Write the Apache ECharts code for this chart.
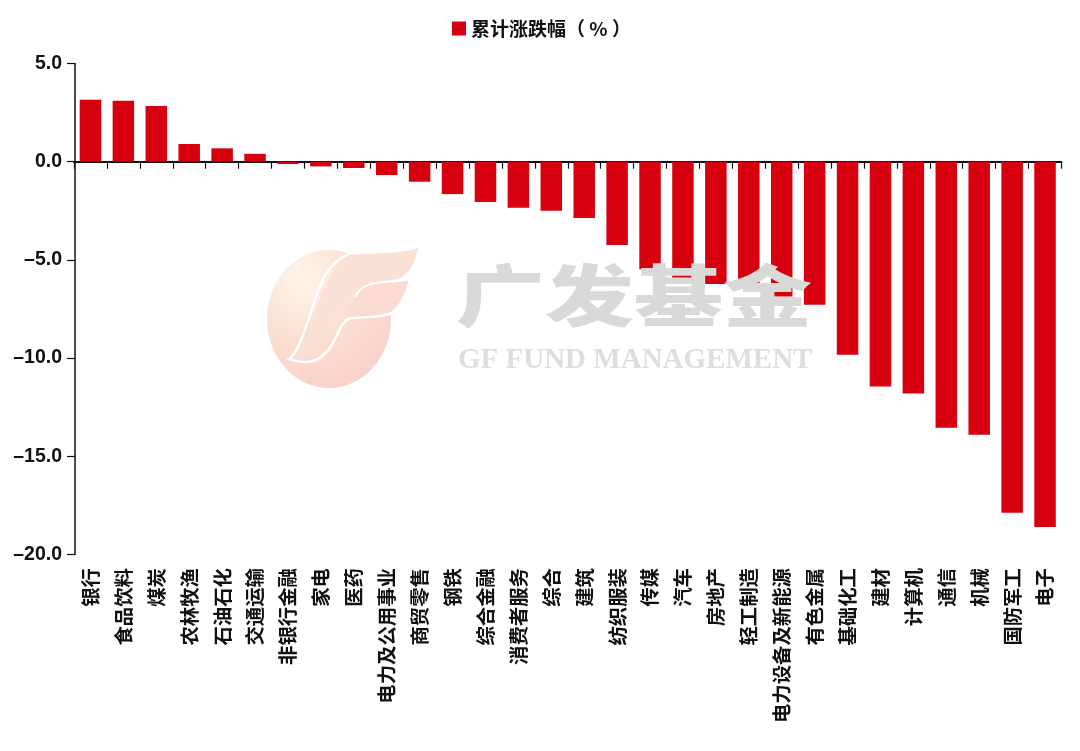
<!DOCTYPE html>
<html><head><meta charset="utf-8">
<style>html,body{margin:0;padding:0;background:#fff}#c{width:1080px;height:751px}</style>
<script src="https://cdn.jsdelivr.net/npm/echarts@6/dist/echarts.min.js"></script>
</head><body><div id="c"></div>
<script>
const categories = ['银行','食品饮料','煤炭','农林牧渔','石油石化','交通运输','非银行金融','家电','医药','电力及公用事业','商贸零售','钢铁','综合金融','消费者服务','综合','建筑','纺织服装','传媒','汽车','房地产','轻工制造','电力设备及新能源','有色金属','基础化工','建材','计算机','通信','机械','国防军工','电子'];
const values = [3.15,3.1,2.83,0.9,0.68,0.4,-0.12,-0.24,-0.32,-0.68,-1.02,-1.65,-2.05,-2.35,-2.5,-2.87,-4.24,-5.47,-6.06,-6.23,-6.38,-6.86,-7.28,-9.83,-11.45,-11.8,-13.55,-13.9,-17.87,-18.6];
const seriesName = '累计涨跌幅（ % ）';
const yMin = -20, yMax = 5, yStep = 5;
const chart = echarts.init(document.getElementById('c'));
const CJK = '"Noto Sans CJK SC","Liberation Sans",sans-serif';
const logoGrad = {type:'radial',x:0.3,y:0.22,r:0.85,colorStops:[{offset:0,color:'#fdf5e9'},{offset:0.45,color:'#fbe3d6'},{offset:1,color:'#f9d3cb'}]};
const reg=(n,d)=>echarts.graphic.registerShape(n,echarts.graphic.extendPath(d,{}));
reg('logoFlame','M345 256 C360 252 395 256 418 248 C414 268 405 279 392 280 C370 281 358 290 352 298 C330 320 322 345 300 361 L290 358 C310 340 320 280 345 256 Z');
reg('logoStroke','M349 254 C325 264 320 285 310 315 C303 335 298 352 289 359 C310 366 325 362 337 335 C343 320 348 317 360 317 C375 317 385 316 392 313');
reg('logoLeaf','M355 297 C361 284 375 282 388 282 C396 282 405 280 410 279 C405 300 396 312 388 314 C370 320 350 315 345 320');
chart.setOption({
  animation:false,
  backgroundColor:'#fff',
  grid:{left:74,width:987.5,top:63.5,height:491,containLabel:false,outerBoundsMode:'none'},
  legend:{left:447,top:14,itemWidth:14,itemHeight:14,itemGap:7,icon:'rect',
    textStyle:{fontFamily:CJK,fontSize:19,fontWeight:'bold',color:'#111'},data:[seriesName]},
  xAxis:{type:'category',data:categories,
    axisLine:{onZero:true,lineStyle:{color:'#111',width:2}},
    axisTick:{show:true,length:7,lineStyle:{color:'#111',width:1.2}},
    axisLabel:{interval:0,rotate:90,margin:13.5,fontFamily:CJK,fontSize:19.4,fontWeight:'bold',color:'#111',verticalAlign:'middle',align:'right',hideOverlap:false}},
  yAxis:{type:'value',min:yMin,max:yMax,interval:yStep,offset:-1,
    splitLine:{show:false},
    axisLine:{show:true,lineStyle:{color:'#111',width:1.5}},
    axisTick:{show:true,length:8,lineStyle:{color:'#111',width:1.2}},
    axisLabel:{margin:13,fontFamily:'"Liberation Sans",Arial,sans-serif',fontSize:19.5,fontWeight:'bold',color:'#111',
      formatter:v=>(v<0?'–':'')+Math.abs(v).toFixed(1)}},
  series:[{name:seriesName,type:'bar',data:values,barWidth:21.5,itemStyle:{color:'#d7000f'}}],
  graphic:{elements:[
    {type:'ellipse',silent:true,z:100,shape:{cx:329,cy:319,rx:62,ry:69},style:{fill:logoGrad}},
    {type:'logoFlame',silent:true,z:101,style:{fill:'#fbe0d6'}},
    {type:'logoStroke',silent:true,z:102,style:{fill:'none',stroke:'#fff',lineWidth:2.5}},
    {type:'logoLeaf',silent:true,z:102,style:{fill:'#fbdbd2',stroke:'#fff',lineWidth:2}},
    {type:'text',silent:true,z:110,x:456,y:262,scaleY:0.75,style:{text:'广发基金',fontFamily:'"Noto Sans CJK SC"',fontWeight:900,fontSize:89,fill:'#d9d9d7',blend:'multiply'}},
    {type:'text',silent:true,z:110,x:458,y:346,style:{text:'GF FUND MANAGEMENT',fontFamily:'"Liberation Serif",serif',fontWeight:'bold',fontSize:29,fill:'#dedede',blend:'multiply'}}
  ]}
});
</script></body></html>
